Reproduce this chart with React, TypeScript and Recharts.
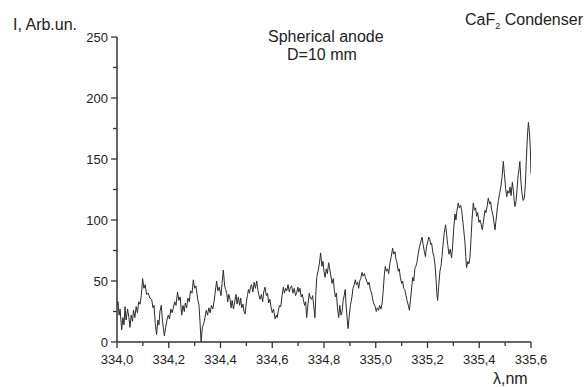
import { LineChart, Line, XAxis, YAxis } from 'recharts';

// wavelength, nm
const lambda = [
  334.000, 334.004, 334.008, 334.012, 334.018, 334.023, 334.027, 334.031, 334.035, 334.041,
  334.046, 334.050, 334.055, 334.060, 334.064, 334.069, 334.074, 334.079, 334.084, 334.089,
  334.094, 334.099, 334.104, 334.109, 334.114, 334.121, 334.127, 334.134, 334.139, 334.143,
  334.148, 334.153, 334.158, 334.162, 334.166, 334.171, 334.176, 334.183, 334.188, 334.193,
  334.198, 334.203, 334.208, 334.213, 334.218, 334.223, 334.228, 334.234, 334.239, 334.244,
  334.250, 334.255, 334.260, 334.264, 334.269, 334.274, 334.279, 334.284, 334.290, 334.295,
  334.300, 334.305, 334.312, 334.317, 334.321, 334.325, 334.330, 334.335, 334.340, 334.345,
  334.350, 334.355, 334.360, 334.365, 334.370, 334.375, 334.379, 334.385, 334.390, 334.395,
  334.402, 334.406, 334.411, 334.416, 334.420, 334.424, 334.428, 334.432, 334.437, 334.441,
  334.445, 334.450, 334.455, 334.460, 334.464, 334.469, 334.474, 334.478, 334.482, 334.487,
  334.491, 334.495, 334.500, 334.504, 334.508, 334.512, 334.516, 334.520, 334.525, 334.530,
  334.535, 334.540, 334.545, 334.549, 334.553, 334.558, 334.563, 334.567, 334.572, 334.577,
  334.582, 334.586, 334.591, 334.595, 334.600, 334.605, 334.611, 334.616, 334.619, 334.623,
  334.628, 334.633, 334.638, 334.643, 334.647, 334.652, 334.656, 334.661, 334.666, 334.670,
  334.675, 334.680, 334.685, 334.690, 334.694, 334.699, 334.703, 334.707, 334.712, 334.716,
  334.720, 334.725, 334.729, 334.733, 334.738, 334.743, 334.747, 334.752, 334.756, 334.760,
  334.765, 334.769, 334.772, 334.777, 334.782, 334.787, 334.792, 334.796, 334.800, 334.804,
  334.809, 334.813, 334.818, 334.822, 334.826, 334.831, 334.836, 334.840, 334.844, 334.848,
  334.852, 334.857, 334.861, 334.866, 334.870, 334.874, 334.878, 334.882, 334.886, 334.890,
  334.893, 334.897, 334.902, 334.908, 334.912, 334.917, 334.921, 334.925, 334.930, 334.934,
  334.938, 334.942, 334.947, 334.951, 334.956, 334.960, 334.965, 334.970, 334.974, 334.979,
  334.984, 334.989, 334.993, 334.998, 335.002, 335.006, 335.011, 335.015, 335.020, 335.024,
  335.029, 335.033, 335.037, 335.041, 335.046, 335.050, 335.055, 335.060, 335.065, 335.069,
  335.074, 335.078, 335.082, 335.087, 335.091, 335.095, 335.100, 335.104, 335.108, 335.112,
  335.117, 335.121, 335.126, 335.130, 335.134, 335.139, 335.143, 335.147, 335.151, 335.155,
  335.159, 335.164, 335.169, 335.174, 335.179, 335.183, 335.188, 335.192, 335.196, 335.201,
  335.205, 335.209, 335.212, 335.216, 335.220, 335.225, 335.229, 335.233, 335.236, 335.239,
  335.243, 335.248, 335.252, 335.256, 335.261, 335.265, 335.270, 335.274, 335.278, 335.283,
  335.288, 335.293, 335.297, 335.301, 335.306, 335.310, 335.314, 335.319, 335.323, 335.328,
  335.332, 335.336, 335.340, 335.345, 335.348, 335.351, 335.356, 335.360, 335.364, 335.368,
  335.372, 335.377, 335.381, 335.386, 335.390, 335.394, 335.399, 335.403, 335.408, 335.412,
  335.417, 335.422, 335.426, 335.431, 335.435, 335.440, 335.444, 335.448, 335.453, 335.457,
  335.461, 335.465, 335.470, 335.474, 335.479, 335.484, 335.488, 335.493, 335.497, 335.502,
  335.506, 335.510, 335.515, 335.519, 335.523, 335.528, 335.532, 335.535, 335.538, 335.542,
  335.546, 335.550, 335.554, 335.557, 335.561, 335.565, 335.570, 335.574, 335.578, 335.582,
  335.586, 335.590, 335.594, 335.597, 335.600,
];

// intensity, arb. units
const intensity = [
  30, 33, 22, 27, 10, 20, 14, 29, 18, 27,
  20, 12, 22, 17, 26, 20, 29, 24, 33, 31,
  38, 52, 44, 47, 39, 40, 36, 35, 28, 30,
  15, 6, 18, 14, 25, 30, 17, 5, 12, 18,
  22, 19, 27, 24, 28, 33, 30, 41, 34, 37,
  22, 30, 25, 32, 28, 36, 33, 42, 40, 51,
  44, 46, 35, 30, 16, 0, 12, 15, 20, 26,
  22, 28, 24, 30, 27, 33, 40, 50, 42, 45,
  38, 48, 59, 46, 43, 40, 33, 39, 35, 28,
  34, 27, 33, 39, 31, 37, 30, 36, 28, 31,
  25, 23, 33, 38, 43, 40, 45, 47, 41, 49,
  44, 50, 42, 38, 35, 39, 33, 41, 45, 38,
  40, 32, 35, 29, 24, 27, 19, 22, 20, 25,
  30, 29, 38, 45, 40, 44, 42, 47, 41, 45,
  46, 40, 44, 38, 40, 45, 41, 44, 37, 39,
  35, 30, 33, 20, 31, 40, 36, 35, 38, 30,
  20, 42, 53, 58, 64, 73, 62, 66, 58, 53,
  60, 56, 65, 60, 55, 48, 52, 42, 37, 40,
  28, 20, 30, 22, 25, 34, 38, 43, 28, 18,
  11, 20, 30, 37, 44, 47, 51, 47, 49, 44,
  50, 52, 57, 54, 56, 53, 50, 47, 49, 43,
  40, 34, 31, 29, 25, 28, 26, 30, 27, 31,
  42, 55, 62, 58, 60, 56, 65, 70, 77, 72,
  74, 68, 65, 58, 60, 53, 48, 50, 44, 43,
  38, 34, 30, 26, 34, 45, 53, 50, 60, 62,
  65, 72, 78, 82, 86, 80, 74, 70, 78, 82,
  86, 84, 80, 81, 74, 70, 63, 52, 40, 34,
  45, 58, 62, 70, 82, 90, 96, 88, 80, 72,
  76, 69, 78, 92, 105, 100, 108, 114, 110, 112,
  108, 100, 92, 81, 70, 61, 66, 64, 69, 84,
  100, 114, 108, 110, 103, 106, 98, 100, 96, 92,
  100, 108, 106, 112, 118, 113, 115, 108, 104, 98,
  92, 100, 110, 116, 122, 128, 135, 148, 138, 126,
  119, 124, 122, 127, 120, 131, 124, 116, 111, 115,
  125, 136, 142, 148, 132, 122, 116, 118, 128, 150,
  168, 180, 172, 160, 138,
];

const xTicks = [334.0, 334.1, 334.2, 334.3, 334.4, 334.5, 334.6, 334.7, 334.8, 334.9, 335.0, 335.1, 335.2, 335.3, 335.4, 335.5, 335.6];
const yTicks = [0, 25, 50, 75, 100, 125, 150, 175, 200, 225, 250];

const data = lambda.map((l, i) => ({ l, v: intensity[i] }));

const FONT = 'Liberation Sans, Arial, sans-serif';
const INK = '#222';

function XTick({ x, y, payload }: any) {
  const v = payload.value as number;
  const major = Math.round(v * 10) % 2 === 0;
  return (
    <g>
      <line x1={x} x2={x} y1={y} y2={y + (major ? 6 : 4)} stroke="#333" strokeWidth={1.3} />
      {major && (
        <text x={x} y={y + 22} textAnchor="middle" fontSize={13} fontFamily={FONT} fill={INK}>
          {v.toFixed(1).replace('.', ',')}
        </text>
      )}
    </g>
  );
}

function YTick({ x, y, payload }: any) {
  const v = payload.value as number;
  const major = v % 50 === 0;
  return (
    <g>
      <line x1={x} x2={x - (major ? 6 : 4)} y1={y} y2={y} stroke="#333" strokeWidth={1.3} />
      {major && (
        <text x={x - 9} y={y + 4.7} textAnchor="end" fontSize={13} fontFamily={FONT} fill={INK}>
          {v}
        </text>
      )}
    </g>
  );
}

export default function App() {
  return (
    <div style={{ position: 'absolute', left: 0, top: 0, width: 587, height: 387, overflow: 'hidden', background: '#fff' }}>
      <LineChart width={587} height={387} data={data} margin={{ top: 37, right: 56, bottom: 0, left: 57 }}>
        <XAxis
          dataKey="l"
          type="number"
          domain={[334, 335.6]}
          ticks={xTicks}
          tick={<XTick />}
          tickSize={0}
          tickMargin={0}
          tickLine={false}
          interval={0}
          allowDataOverflow
          axisLine={{ stroke: '#333', strokeWidth: 1.5 }}
          height={45}
        />
        <YAxis
          type="number"
          domain={[0, 250]}
          ticks={yTicks}
          tick={<YTick />}
          tickSize={0}
          tickMargin={0}
          tickLine={false}
          interval={0}
          axisLine={{ stroke: '#333', strokeWidth: 1.5 }}
          width={60}
        />
        <Line type="linear" dataKey="v" stroke="#2b2b2b" strokeWidth={1} dot={false} isAnimationActive={false} />
      </LineChart>
      <svg width={587} height={387} style={{ position: 'absolute', left: 0, top: 0, pointerEvents: 'none' }}>
        <g fontFamily={FONT} fontSize={16} fill={INK}>
          <text x={13} y={30}>I, Arb.un.</text>
          <text x={268} y={42}>Spherical anode</text>
          <text x={287} y={60}>D=10 mm</text>
          <text x={465} y={25}>
            CaF<tspan fontSize={9} dy={4}>2</tspan><tspan dy={-4}> Condenser</tspan>
          </text>
          <text x={493} y={384}>λ,nm</text>
        </g>
      </svg>
    </div>
  );
}
